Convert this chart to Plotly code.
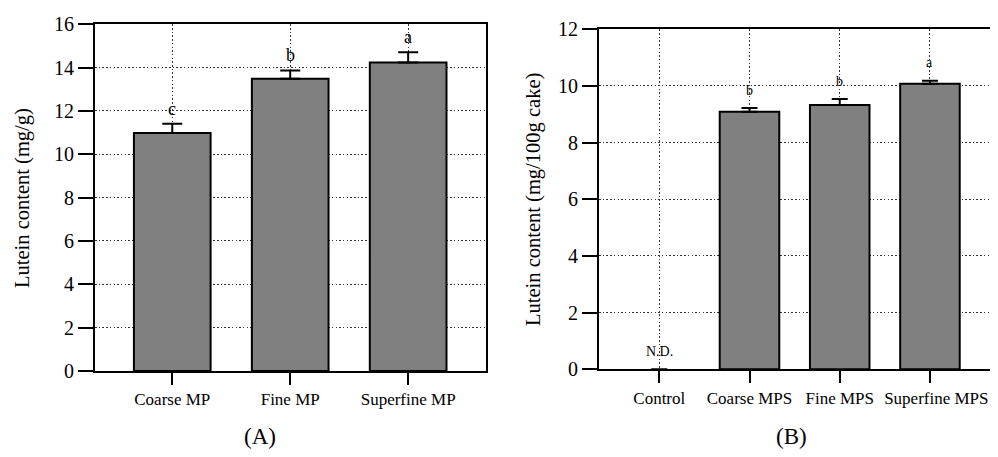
import plotly.graph_objects as go

# Panel A data
cats_a = ["Coarse MP", "Fine MP", "Superfine MP"]
vals_a = [10.98, 13.49, 14.24]
errs_a = [0.43, 0.38, 0.47]
letters_a = ["c", "b", "a"]
yticks_a = [0, 2, 4, 6, 8, 10, 12, 14, 16]

# Panel B data
cats_b = ["Control", "Coarse MPS", "Fine MPS", "Superfine MPS"]
vals_b = [0, 9.09, 9.33, 10.08]
errs_b = [0, 0.13, 0.21, 0.10]
letters_b = ["N.D.", "b", "b", "a"]
yticks_b = [0, 2, 4, 6, 8, 10, 12]

FONT = "Liberation Serif"
OFF = 8  # default page body margin
W, H = 998 - 2 * OFF, 457 - 2 * OFF
DOT = "1.5px,2.2px"

fig = go.Figure()

fig.add_trace(go.Bar(
    x=cats_a, y=vals_a, width=0.65,
    marker=dict(color="#808080", line=dict(color="black", width=2)),
    error_y=dict(type="data", array=errs_a, arrayminus=[0] * len(errs_a),
                 symmetric=False, color="black", thickness=2, width=10),
    xaxis="x", yaxis="y", showlegend=False,
))
fig.add_trace(go.Bar(
    x=cats_b, y=vals_b, width=0.66,
    marker=dict(color="#808080",
                line=dict(color="black", width=[0 if v == 0 else 2 for v in vals_b])),
    error_y=dict(type="data", array=errs_b, arrayminus=[0] * len(errs_b),
                 symmetric=False, color="black", thickness=2, width=8),
    xaxis="x2", yaxis="y2", showlegend=False,
))

def clamp(v):
    return max(0.0, min(1.0, v))

def px_x(p):
    return (p - OFF) / W

def px_y(p):
    return 1 - (p - OFF) / H

common_axis = dict(
    showline=True, linecolor="black", linewidth=2, mirror=True,
    ticks="outside", tickcolor="black", tickwidth=2,
    showgrid=True, gridcolor="#333333", gridwidth=1.3, griddash=DOT,
    zeroline=False, automargin=False,
    tickfont=dict(family=FONT, size=17, color="black"),
)
ytick_font = dict(family=FONT, size=20, color="black")

# last category label in panel B sits slightly right of its tick in the reference
ticktext_b = cats_b[:-1] + ["\u00a0" * 3 + cats_b[-1]]

fig.update_layout(
    width=W, height=H,
    margin=dict(l=0, r=0, t=0, b=0),
    plot_bgcolor="white", paper_bgcolor="white",
    font=dict(family=FONT, color="black"),
    xaxis=dict(common_axis, domain=[clamp(px_x(95)), clamp(px_x(486))], range=[-0.655, 2.66],
               ticklen=12, anchor="y", tickangle=0),
    yaxis=dict(common_axis, domain=[clamp(px_y(371)), clamp(px_y(24.3))], range=[0, 16],
               tickvals=yticks_a, ticklen=15, anchor="x", tickfont=ytick_font),
    xaxis2=dict(common_axis, domain=[clamp(px_x(599)), clamp(px_x(989.5))], range=[-0.668, 3.66],
                ticklen=12, anchor="y2", tickmode="array", tickvals=cats_b,
                ticktext=ticktext_b, tickangle=0),
    yaxis2=dict(common_axis, domain=[clamp(px_y(369.3)), clamp(px_y(29.3))], range=[0, 12],
                tickvals=yticks_b, ticklen=15, anchor="x2", tickfont=ytick_font),
)

annotations = []
for c, v, e, l in zip(cats_a, vals_a, errs_a, letters_a):
    annotations.append(dict(x=c, y=v + e, xref="x", yref="y", text=l, showarrow=False,
                            xanchor="center", yanchor="middle", yshift=15,
                            font=dict(family=FONT, size=18, color="black")))
for c, v, e, l in zip(cats_b, vals_b, errs_b, letters_b):
    annotations.append(dict(x=c, y=v + e, xref="x2", yref="y2", text=l, showarrow=False,
                            xanchor="center", yanchor="middle", yshift=18,
                            font=dict(family=FONT, size=14, color="black")))

def paper_text(xp, yp, text, size, angle=0):
    return dict(x=px_x(xp), y=px_y(yp), xref="paper", yref="paper", text=text,
                textangle=angle, showarrow=False, xanchor="center", yanchor="middle",
                font=dict(family=FONT, size=size, color="black"))

annotations.append(paper_text(23, 198, "Lutein content (mg/g)", 20.5, -90))
annotations.append(paper_text(533, 200, "Lutein content (mg/100g cake)", 20.5, -90))
annotations.append(paper_text(260, 436, "(A)", 23))
annotations.append(paper_text(791, 436, "(B)", 23))

fig.update_layout(annotations=annotations)
fig.write_html("out.html")
